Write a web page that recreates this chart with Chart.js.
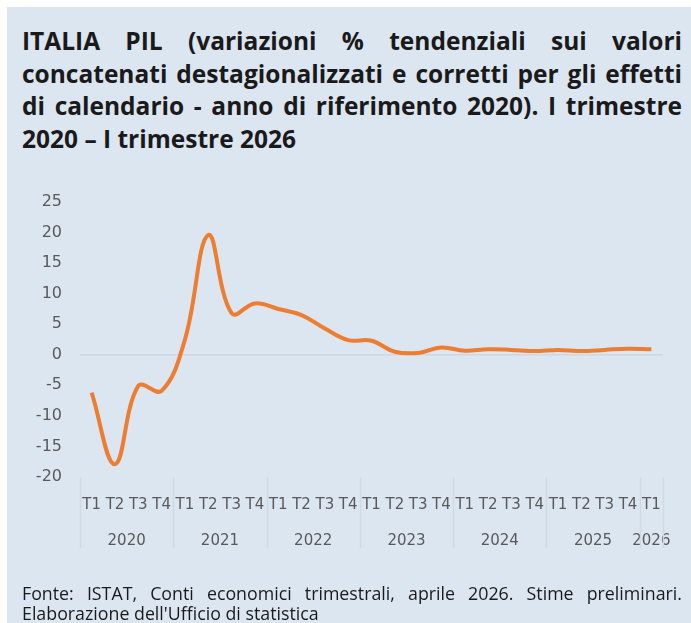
<!DOCTYPE html>
<html lang="it">
<head>
<meta charset="utf-8">
<script src="https://cdn.jsdelivr.net/npm/chart.js@4.4.1/dist/chart.umd.min.js"></script>
<style>
  html, body { margin: 0; padding: 0; background: #fff; }
  #wrap { position: relative; width: 691px; height: 623px; overflow: hidden; }
  #box { position: absolute; left: 7px; top: 7px; right: 0; bottom: 0; background: #dce6f1; }
  #grafico { position: absolute; left: 0; top: 0; }
  .titolo { position: absolute; left: 22px; width: 660px; top: 25px;
    font-family: "Open Sans", sans-serif; font-weight: 700; font-size: 24.5px; line-height: 32.5px; color: #1a1a1a; }
  .titolo div, .fonte div { white-space: nowrap; }
  .titolo div, .fonte div.j { text-align: justify; text-align-last: justify; }
  .titolo div.ultima { text-align-last: left; }
  .fonte { position: absolute; left: 22px; width: 660px; top: 583px;
    font-family: "Open Sans", sans-serif; font-size: 17.8px; line-height: 20px; color: #1a1a1a; }
</style>
</head>
<body>
<div id="wrap">
  <div id="box"></div>
  <div class="titolo">
    <div>ITALIA PIL (variazioni % tendenziali sui valori</div>
    <div>concatenati destagionalizzati e corretti per gli effetti</div>
    <div>di calendario - anno di riferimento 2020). I trimestre</div>
    <div class="ultima">2020 – I trimestre 2026</div>
  </div>
  <canvas id="grafico" width="691" height="623"></canvas>
  <div class="fonte">
    <div class="j">Fonte: ISTAT, Conti economici trimestrali, aprile 2026. Stime preliminari.</div>
    <div>Elaborazione dell'Ufficio di statistica</div>
  </div>
</div>
<script>
// dati
const trimestri = ['T1','T2','T3','T4', 'T1','T2','T3','T4', 'T1','T2','T3','T4',
                   'T1','T2','T3','T4', 'T1','T2','T3','T4', 'T1','T2','T3','T4', 'T1'];
const anni = ['2020', '2021', '2022', '2023', '2024', '2025', '2026'];
const pil = [-6.2, -17.9, -5.1, -5.9, 2.5, 19.6, 6.8, 8.4, 7.5, 6.5, 4.3, 2.4,
             2.3, 0.5, 0.3, 1.2, 0.65, 0.9, 0.8, 0.6, 0.8, 0.6, 0.8, 1.0, 0.9];
const yTicks = [-20, -15, -10, -5, 0, 5, 10, 15, 20, 25];

// confini degli anni (indici dove inizia T1, piu la fine)
const confini = [];
trimestri.forEach((t, i) => { if (t === 'T1') confini.push(i); });
confini.push(trimestri.length);
const centriAnni = anni.map((a, k) => (confini[k] + confini[k + 1] - 1) / 2);

const grigio = '#595959';

const separatori = {
  id: 'separatori',
  afterDraw(chart) {
    const x2 = chart.scales.x2;
    const c = chart.ctx;
    c.save();
    c.strokeStyle = '#d3d9e0';
    c.lineWidth = 1.5;
    confini.forEach(b => {
      const px = Math.round(x2.getPixelForValue(b - 0.5)) + 0.5;
      c.beginPath();
      c.moveTo(px, chart.chartArea.bottom);
      c.lineTo(px, x2.bottom - 1);
      c.stroke();
    });
    c.restore();
  }
};

new Chart(document.getElementById('grafico'), {
  type: 'line',
  data: {
    labels: trimestri,
    datasets: [{
      data: pil,
      borderColor: '#ed7d31',
      borderWidth: 4,
      pointRadius: 0,
      tension: 0.4,
      fill: false
    }]
  },
  options: {
    responsive: false,
    animation: false,
    layout: { padding: { top: 202, right: 28, bottom: 74, left: 0 } },
    plugins: { legend: { display: false }, tooltip: { enabled: false } },
    scales: {
      y: {
        min: -20,
        max: 25,
        afterFit(s) { s.width = 80; },
        afterBuildTicks(s) { s.ticks = yTicks.map(v => ({ value: v })); },
        border: { display: false },
        grid: {
          drawTicks: false,
          lineWidth: 1.5,
          color: c => (c.tick && c.tick.value === 0 ? '#d0d6de' : 'rgba(0,0,0,0)')
        },
        ticks: { padding: 18, color: grigio, font: { family: 'DejaVu Sans', size: 16 } }
      },
      x: {
        weight: 0,
        offset: true,
        afterFit(s) { s.height = 32; },
        border: { display: false },
        grid: { display: false },
        ticks: {
          padding: 11,
          color: grigio,
          font: { family: 'DejaVu Sans', size: 15 },
          autoSkip: false,
          maxRotation: 0,
          minRotation: 0
        }
      },
      x2: {
        type: 'linear',
        position: 'bottom',
        weight: 1,
        min: -0.5,
        max: trimestri.length - 0.5,
        afterFit(s) { s.height = 40; },
        afterBuildTicks(s) { s.ticks = centriAnni.map(v => ({ value: v })); },
        border: { display: false },
        grid: { display: false },
        ticks: {
          padding: 15,
          color: grigio,
          font: { family: 'DejaVu Sans', size: 15 },
          autoSkip: false,
          maxRotation: 0,
          minRotation: 0,
          callback: v => anni[centriAnni.indexOf(v)]
        }
      }
    }
  },
  plugins: [separatori]
});
</script>
</body>
</html>
